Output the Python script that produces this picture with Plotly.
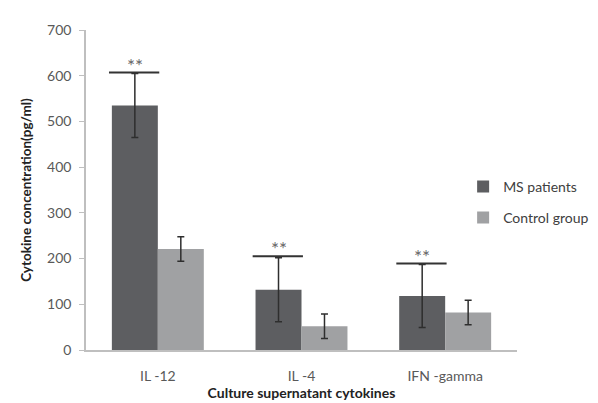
import plotly.graph_objects as go

categories = ["IL -12", "IL -4", "IFN -gamma"]
ms_values = [535, 132, 118]
ms_errors = [70, 70, 69]
control_values = [221, 52, 82]
control_errors = [27, 27, 27]
sig_levels = [607, 205, 189]
sig_labels = ["**", "**", "**"]
y_ticks = [0, 100, 200, 300, 400, 500, 600, 700]

idx = list(range(len(categories)))
bw = 0.32
font = "Lato, Open Sans, sans-serif"

fig = go.Figure()
fig.add_trace(go.Bar(
    x=idx, y=ms_values, width=bw, offset=-bw, name="MS patients",
    marker=dict(color="#5d5e61", line=dict(width=0)),
    error_y=dict(type="data", array=ms_errors, color="#2e2e2e", thickness=1.5, width=3.5),
    legendgroup="a",
))
fig.add_trace(go.Bar(
    x=idx, y=control_values, width=bw, offset=0, name="Control group",
    marker=dict(color="#a0a1a3", line=dict(width=0)),
    error_y=dict(type="data", array=control_errors, color="#2e2e2e", thickness=1.5, width=3.5),
    legendgroup="b",
))

for i, lvl, lab in zip(idx, sig_levels, sig_labels):
    fig.add_trace(go.Scatter(
        x=[i - bw - 0.02, i + 0.01], y=[lvl, lvl], mode="lines",
        line=dict(color="#333333", width=2), showlegend=False, hoverinfo="skip",
    ))
    fig.add_annotation(x=i - bw / 2, y=lvl, text=lab, showarrow=False,
                       yanchor="bottom", yshift=-6,
                       font=dict(family=font, size=19, color="#666666"))

fig.update_layout(
    width=598, height=403,
    margin=dict(l=78, r=71, t=22, b=54),
    paper_bgcolor="white", plot_bgcolor="white",
    barmode="overlay",
    font=dict(family=font, size=14, color="#595959"),
    legend=dict(x=0.875, y=0.56, xanchor="left", yanchor="top",
                font=dict(family=font, size=14, color="#404040"),
                tracegroupgap=10, traceorder="grouped",
                itemwidth=30, bgcolor="rgba(0,0,0,0)"),
    xaxis=dict(range=[-0.5, 2.5], tickvals=idx, ticktext=categories,
               showline=True, linecolor="#bfbfbf", linewidth=1.5,
               showgrid=False, zeroline=False, ticks="",
               ticklabelstandoff=12,
               tickfont=dict(size=14, color="#595959"),
               title=dict(text="<b>Culture supernatant cytokines</b>", standoff=6,
                          font=dict(size=14, color="#222222"))),
    yaxis=dict(range=[0, 700], tickvals=y_ticks, showline=True,
               linecolor="#bfbfbf", linewidth=1.5, showgrid=False,
               zeroline=False, ticks="outside", ticklen=5, tickcolor="#bfbfbf",
               ticklabelstandoff=5,
               tickfont=dict(size=14, color="#595959"),
               title=dict(text="<b>Cytokine concentration(pg/ml)</b>", standoff=12,
                          font=dict(size=13.5, color="#222222"))),
)

fig.write_html("out.html")
